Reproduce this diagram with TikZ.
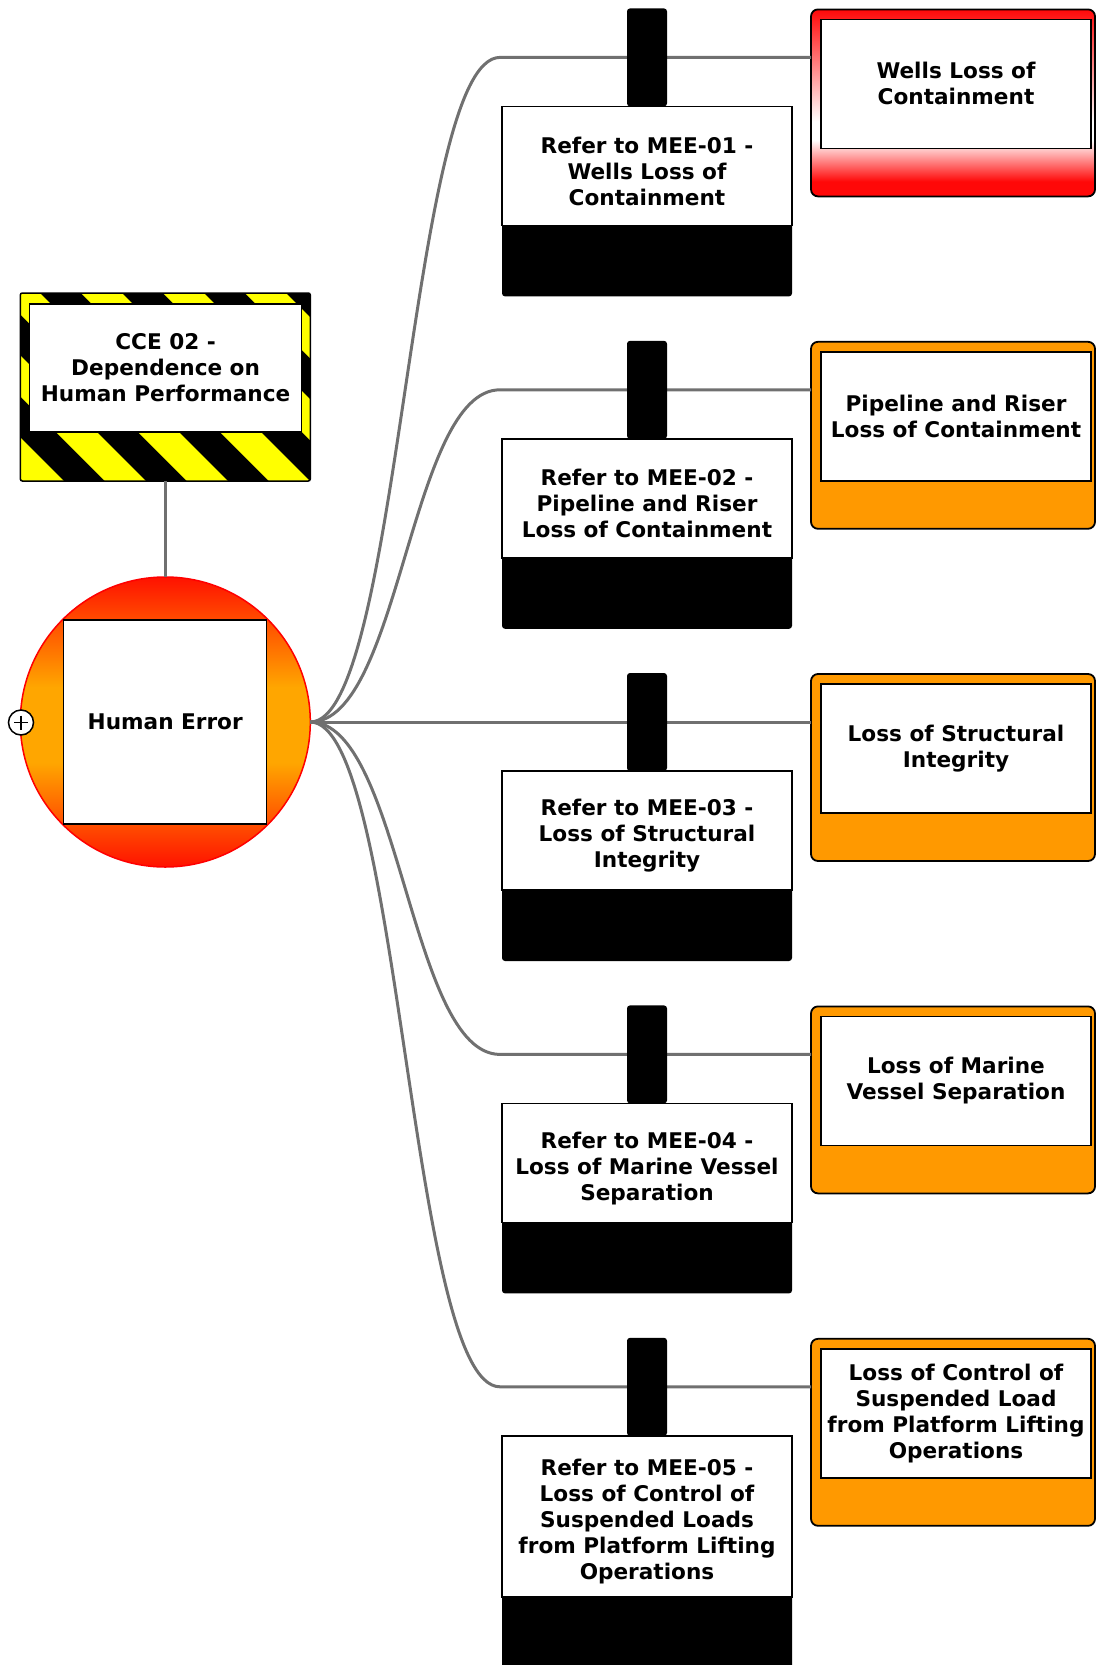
\documentclass[tikz,border=0pt]{standalone}
\usepackage{fontspec}
\setmainfont{DejaVu Sans}
\usetikzlibrary{calc}
\definecolor{lgray}{RGB}{112,112,112}
\definecolor{morange}{RGB}{255,153,0}
\definecolor{cred}{RGB}{255,18,0}
\definecolor{corange}{RGB}{255,166,0}
\definecolor{wred}{RGB}{255,8,8}
\definecolor{hyellow}{RGB}{255,255,0}
\pgfdeclareverticalshading{circgrad}{100bp}{color(0bp)=(cred); color(25bp)=(cred); color(43bp)=(corange); color(56bp)=(corange); color(75bp)=(cred); color(100bp)=(cred)}
\pgfdeclareverticalshading{wellsgrad}{100bp}{color(0bp)=(wred); color(29bp)=(wred); color(40bp)=(white); color(45bp)=(white); color(75bp)=(wred); color(100bp)=(wred)}
\begin{document}
\begin{tikzpicture}[x=1pt,y=-1pt,
  every node/.style={inner sep=0pt, outer sep=0pt},
  lbl/.style={font=\fontsize{21.6}{26}\selectfont\bfseries, align=center},
  conn/.style={draw=lgray, line width=3pt},
  stembox/.style={fill=black, rounded corners=3pt, minimum width=40, minimum height=98},
  blockbox/.style={fill=black, rounded corners=3pt, minimum width=290, minimum height=190},
  refbox/.style={fill=white, draw=black, line width=1.5pt, minimum width=290, minimum height=119},
  outerbox/.style={draw=black, line width=1.8pt, rounded corners=7pt, fill=morange, minimum width=284, minimum height=187},
  innerbox/.style={lbl, fill=white, draw=black, line width=1.5pt, minimum width=270, minimum height=129}
]
\useasboundingbox (0,0) rectangle (1096,1665);

% CCE hazard box
\begin{scope}
\clip[rounded corners=2pt] (20,293) rectangle (310,481);
\fill[black] (20,293) rectangle (310,481);
\foreach \c in {-540,-458,...,34}
  \fill[hyellow] (\c+290,290) -- (\c+331,290) -- (\c+526,485) -- (\c+485,485) -- cycle;
\end{scope}
\node[draw=black, line width=1.5pt, rounded corners=2pt, minimum width=290, minimum height=188] (cce) at (165.3,387) {};
\node[lbl, fill=white, draw=black, line width=1.5pt, minimum width=272, minimum height=128] (ccet) at (165.6,368) {CCE 02 -\\Dependence on\\Human Performance};

% Human Error circle
\node[circle, minimum size=290, shading=circgrad, draw=red, line width=1.5pt] (he) at (165.3,722) {};
\node[lbl, fill=white, draw=black, line width=1.5pt, minimum width=203, minimum height=204] (hebox) at (165.2,722) {Human Error};
\node[circle, draw=black, fill=white, line width=1.5pt, minimum size=25,
  path picture={\draw[line width=1.5pt] (path picture bounding box.center) ++(-7,0) -- ++(14,0)
     (path picture bounding box.center) ++(0,-7) -- ++(0,14);}] (plus) at (21,722.5) {};
\draw[conn] (cce.south) -- (cce.south |- he.north);

% Right boxes
\node[outerbox, fill=none, shading=wellsgrad] (o1) at (953,102.9) {};
\node[innerbox] (t1) at (956,83.9) {Wells Loss of\\Containment};
\node[outerbox] (o2) at (953,435.3) {};
\node[innerbox] (t2) at (956,416.3) {Pipeline and Riser\\Loss of Containment};
\node[outerbox] (o3) at (953,767.5) {};
\node[innerbox] (t3) at (956,748.5) {Loss of Structural\\Integrity};
\node[outerbox] (o4) at (953,1099.9) {};
\node[innerbox] (t4) at (956,1080.9) {Loss of Marine\\Vessel Separation};
\node[outerbox] (o5) at (953,1432.3) {};
\node[innerbox] (t5) at (956,1413.3) {Loss of Control of\\Suspended Load\\from Platform Lifting\\Operations};

% Connectors
\coordinate (j1) at (500,57.4);
\coordinate (j2) at (500,389.8);
\coordinate (j3) at (500,722);
\coordinate (j4) at (500,1054.4);
\coordinate (j5) at (500,1386.8);
\foreach \i in {1,...,5}
  \draw[conn] (he.east) .. controls +(90,0) and +(-90,0) .. (j\i) -- (o\i.west |- j\i);

% Hangers
\node[stembox] (s1) at (647,57.4) {};
\node[blockbox] (k1) at (647,201.4) {};
\node[refbox] (m1) at (647,165.9) {};
\node[lbl] (mt1) at (647,171.4) {Refer to MEE-01 -\\Wells Loss of\\Containment};
\node[stembox] (s2) at (647,389.8) {};
\node[blockbox] (k2) at (647,533.8) {};
\node[refbox] (m2) at (647,498.3) {};
\node[lbl] (mt2) at (647,503.8) {Refer to MEE-02 -\\Pipeline and Riser\\Loss of Containment};
\node[stembox] (s3) at (647,722) {};
\node[blockbox] (k3) at (647,866) {};
\node[refbox] (m3) at (647,830.5) {};
\node[lbl] (mt3) at (647,836) {Refer to MEE-03 -\\Loss of Structural\\Integrity};
\node[stembox] (s4) at (647,1054.4) {};
\node[blockbox] (k4) at (647,1198.4) {};
\node[refbox] (m4) at (647,1162.9) {};
\node[lbl] (mt4) at (647,1168.4) {Refer to MEE-04 -\\Loss of Marine Vessel\\Separation};
\node[stembox] (s5) at (647,1386.8) {};
\node[blockbox, minimum height=232] (k5) at (647,1551.8) {};
\node[refbox, minimum height=161] (m5) at (647,1516.3) {};
\node[lbl] (mt5) at (647,1521.8) {Refer to MEE-05 -\\Loss of Control of\\Suspended Loads\\from Platform Lifting\\Operations};
\end{tikzpicture}
\end{document}
